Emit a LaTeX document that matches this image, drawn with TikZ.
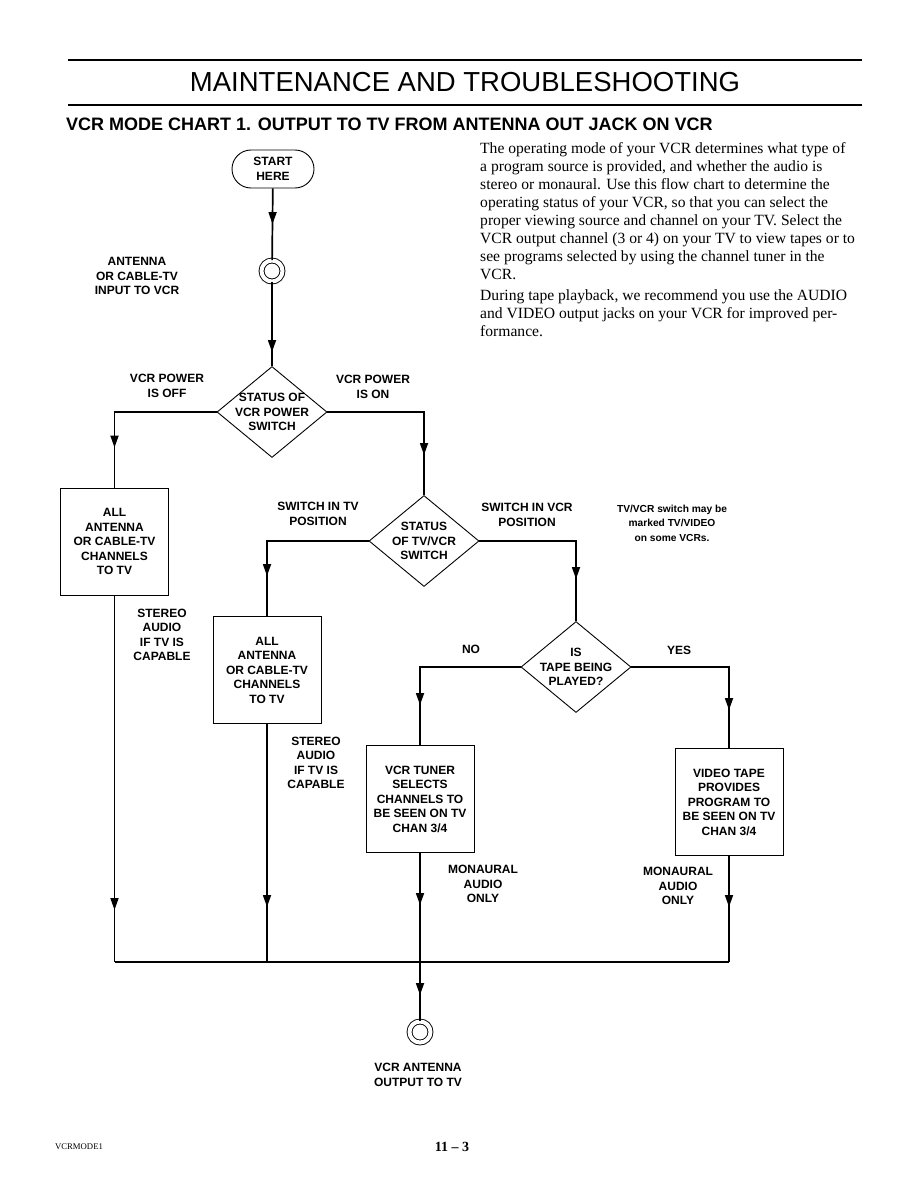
\documentclass[tikz,border=0pt]{standalone}
\usepackage{fontspec}
\setmainfont{Liberation Serif}
\setsansfont{Liberation Sans}
\usetikzlibrary{arrows.meta,positioning,shapes.geometric,decorations.markings}

\begin{document}
\begin{tikzpicture}[x=1pt, y=-1pt,
  chbox/.style={draw=black, line width=0.9pt, rectangle, minimum width=108pt,
    minimum height=107pt, align=center, inner sep=0pt,
    font=\sffamily\bfseries\fontsize{12}{14.5}\selectfont},
  chdia/.style={draw=black, line width=0.9pt, diamond, minimum width=110pt,
    minimum height=91pt, inner sep=0pt},
  chterm/.style={draw=black, line width=0.9pt, rectangle, rounded corners=19pt,
    minimum width=82pt, minimum height=38pt, align=center, inner sep=0pt,
    font=\sffamily\bfseries\fontsize{12}{14.5}\selectfont},
  jack/.style={draw=black, line width=0.9pt, circle, double, double distance=4pt,
    minimum size=21pt, inner sep=0pt},
  lbl/.style={align=center, inner sep=0pt,
    font=\sffamily\bfseries\fontsize{12}{14.5}\selectfont},
  smalllbl/.style={align=center, inner sep=0pt,
    font=\sffamily\bfseries\fontsize{10.2}{14.5}\selectfont},
  ln/.style={line width=1.7pt},
  rule/.style={line width=1.8pt},
  midar/.style={postaction={decorate}, decoration={markings,
    mark=at position #1 with {\arrow{Triangle[length=12pt,width=8pt]}}}},
]
\useasboundingbox (0,0) rectangle (918,1188);

%--- Kopf ---
\draw[rule] (68,60) -- (862,60);
\draw[rule] (68,105) -- (862,105);
\node[font=\sffamily\fontsize{27.5}{30}\selectfont, inner sep=0pt] (title) at (465,82)
  {MAINTENANCE AND TROUBLESHOOTING};
\node[font=\sffamily\bfseries\fontsize{18}{20}\selectfont, inner sep=0pt, anchor=west]
  (subtitle) at (66,124) {VCR MODE CHART 1. OUTPUT TO TV FROM ANTENNA OUT JACK ON VCR};

%--- Text rechts ---
\node[anchor=north west, align=left, inner sep=0pt,
  font=\fontsize{15.6}{18}\selectfont] (intro) at (480,142)
  {The operating mode of your VCR determines what type of\\
   a program source is provided, and whether the audio is\\
   stereo or monaural. Use this flow chart to determine the\\
   operating status of your VCR, so that you can select the\\
   proper viewing source and channel on your TV. Select the\\
   VCR output channel (3 or 4) on your TV to view tapes or to\\
   see programs selected by using the channel tuner in the\\
   VCR.\\[3pt]
   During tape playback, we recommend you use the AUDIO\\
   and VIDEO output jacks on your VCR for improved per-\\
   formance.};

%--- Start und Eingang ---
\node[chterm] (start) at (273,169) {START\\HERE};
\node[jack] (jin) at (272,271) {};
\node[lbl] (inlbl) at (137,276) {ANTENNA\\OR CABLE-TV\\INPUT TO VCR};

%--- Entscheidungen ---
\node[chdia, label={[lbl]center:STATUS OF\\VCR POWER\\SWITCH}] (pwr) at (272,412) {};
\node[chdia, label={[lbl]center:STATUS\\OF TV/VCR\\SWITCH}] (tvsw) at (424,541) {};
\node[chdia, label={[lbl]center:IS\\TAPE BEING\\PLAYED?}] (tape) at (576,667) {};

%--- Kaesten ---
\node[chbox] (allA) at (114.5,541.5) {ALL\\ANTENNA\\OR CABLE-TV\\CHANNELS\\TO TV};
\node[chbox] (allB) at (267,670) {ALL\\ANTENNA\\OR CABLE-TV\\CHANNELS\\TO TV};
\node[chbox] (tuner) at (420,799) {VCR TUNER\\SELECTS\\CHANNELS TO\\BE SEEN ON TV\\CHAN 3/4};
\node[chbox] (vtape) at (729,802) {VIDEO TAPE\\PROVIDES\\PROGRAM TO\\BE SEEN ON TV\\CHAN 3/4};

%--- Beschriftungen ---
\node[lbl] (offlbl) at (167,386) {VCR POWER\\IS OFF};
\node[lbl] (onlbl) at (373,387) {VCR POWER\\IS ON};
\node[lbl] (tvlbl) at (318,514) {SWITCH IN TV\\POSITION};
\node[lbl] (vcrlbl) at (527,515) {SWITCH IN VCR\\POSITION};
\node[smalllbl] (swnote) at (672,523) {TV/VCR switch may be\\marked TV/VIDEO\\on some VCRs.};
\node[lbl] (stA) at (162,635) {STEREO\\AUDIO\\IF TV IS\\CAPABLE};
\node[lbl] (stB) at (316,763) {STEREO\\AUDIO\\IF TV IS\\CAPABLE};
\node[lbl] (nolbl) at (471,649) {NO};
\node[lbl] (yeslbl) at (679,650) {YES};
\node[lbl] (monA) at (483,884) {MONAURAL\\AUDIO\\ONLY};
\node[lbl] (monB) at (678,886) {MONAURAL\\AUDIO\\ONLY};

%--- Ausgang ---
\coordinate (bus) at (420,962);
\node[jack] (jout) at (420,1032) {};
\node[lbl] (outlbl) at (418,1075) {VCR ANTENNA\\OUTPUT TO TV};

%--- Verbindungen ---
\draw[ln, midar=-36pt] (start) -- (jin);
\draw[ln, midar=-14pt] (jin) -- (pwr.north);
\draw[ln, midar=-40pt] (pwr.west) -| (allA.north);
\draw[ln, midar=-40pt] (pwr.east) -| (tvsw.north);
\draw[ln, midar=-40pt] (tvsw.west) -| (allB.north);
\draw[ln, midar=-42pt] (tvsw.east) -| (tape.north);
\draw[ln, midar=-40pt] (tape.west) -| (tuner.north);
\draw[ln, midar=-38pt] (tape.east) -| (vtape.north);

\draw[ln, midar=-52pt] (allA.south) -- (allA.south |- bus);
\draw[ln, midar=-55pt] (allB.south) -- (allB.south |- bus);
\draw[ln, midar=-57pt] (tuner.south) -- (bus);
\draw[ln, midar=-55pt] (vtape.south) -- (vtape.south |- bus);
\draw[ln] (allA.south |- bus) -- (vtape.south |- bus);
\draw[ln, midar=-26pt] (bus) -- (jout);

%--- Fuss ---
\node[font=\fontsize{8.7}{10}\selectfont, inner sep=0pt] (fname) at (79,1147) {VCRMODE1};
\node[font=\bfseries\fontsize{14}{16}\selectfont, inner sep=0pt] (pageno) at (452,1147) {11 -- 3};

\end{tikzpicture}
\end{document}
